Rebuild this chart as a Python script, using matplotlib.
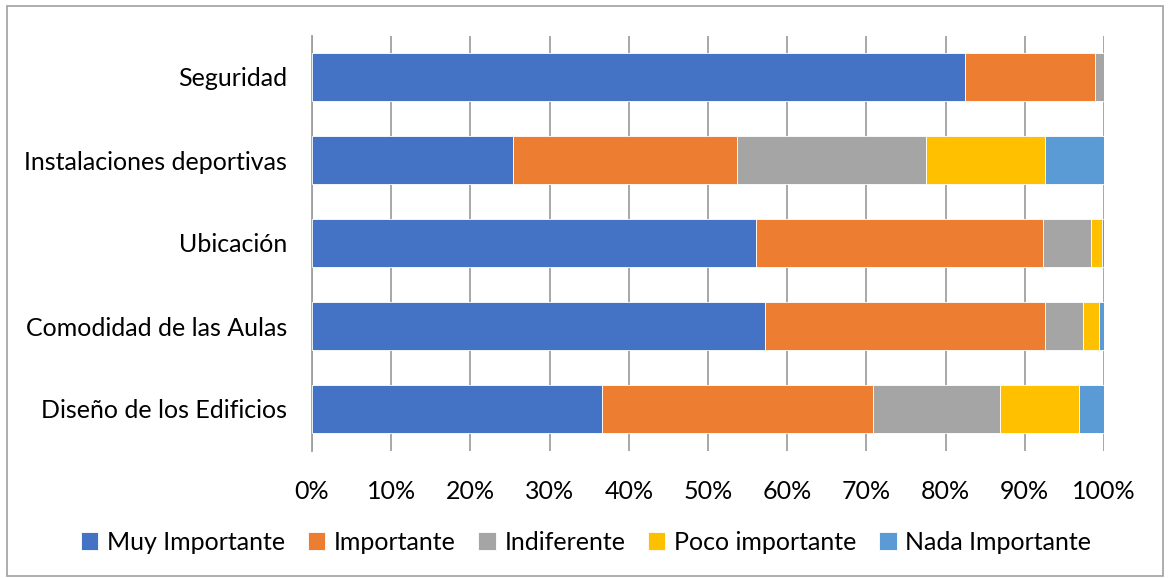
import matplotlib
matplotlib.use('agg')
import matplotlib.pyplot as plt
import numpy as np

# data (percent)
categorias = ['Diseño de los Edificios', 'Comodidad de las Aulas', 'Ubicación',
              'Instalaciones deportivas', 'Seguridad']
muy_importante = [36.6, 57.2, 56.1, 25.4, 82.5]
importante = [34.2, 35.3, 36.2, 28.3, 16.4]
indiferente = [16.1, 4.8, 6.0, 23.8, 1.1]
poco_importante = [9.9, 2.1, 1.4, 15.0, 0.0]
nada_importante = [3.2, 0.6, 0.3, 7.5, 0.0]

series = ['Muy Importante', 'Importante', 'Indiferente', 'Poco importante', 'Nada Importante']
colores = ['#4472C4', '#ED7D31', '#A5A5A5', '#FFC000', '#5B9BD5']

plt.rcParams['font.family'] = ['Lato', 'DejaVu Sans']

fig = plt.figure(figsize=(11.72, 5.78), dpi=100)
ax = fig.add_axes([312 / 1172, 1 - 450.5 / 578, 792 / 1172, 415 / 578])

datos = np.array([muy_importante, importante, indiferente, poco_importante, nada_importante])
totales = datos.sum(axis=0)
datos = datos / totales * 100

y = np.arange(len(categorias))
izq = np.zeros(len(categorias))
for nombre, vals, col in zip(series, datos, colores):
    ax.barh(y, vals, left=izq, height=0.57, color=col, label=nombre,
            edgecolor='white', linewidth=0.6, zorder=3)
    izq += vals

ax.set_xlim(0, 100)
ax.set_ylim(-0.5, len(categorias) - 0.5)
ax.set_xticks(np.arange(0, 101, 10))
ax.set_xticklabels([f'{v}%' for v in range(0, 101, 10)])
ax.set_yticks(y)
ax.set_yticklabels(categorias)
ax.tick_params(axis='both', length=0, labelsize=18, colors='black')
ax.tick_params(axis='x', pad=21)
ax.tick_params(axis='y', pad=18)
ax.grid(axis='x', color='#A0A0A0', linewidth=1.3, zorder=0)
for s in ['top', 'right', 'bottom']:
    ax.spines[s].set_visible(False)
ax.spines['left'].set_color('#A0A0A0')
ax.spines['left'].set_linewidth(1.3)

fig.legend(loc='center', bbox_to_anchor=(0.5, 1 - 542 / 578), ncol=5, frameon=False,
           fontsize=18, handlelength=0.7, handleheight=0.7, handletextpad=0.35,
           columnspacing=0.9)

# chart border
fig.patches.append(plt.Rectangle((7 / 1172, 2 / 578), 1156 / 1172, 570 / 578,
                                 transform=fig.transFigure, fill=False,
                                 edgecolor='#A0A0A0', linewidth=1.2))

plt.savefig('out.png', dpi=100)
